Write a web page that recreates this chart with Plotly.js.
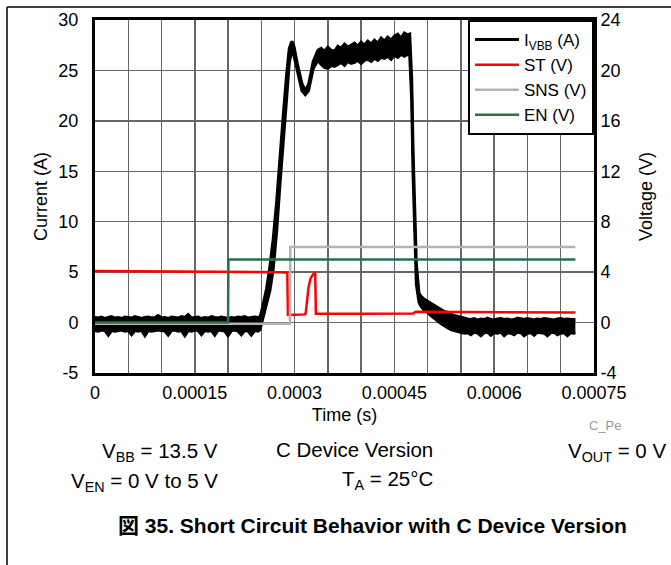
<!DOCTYPE html>
<html>
<head>
<meta charset="utf-8">
<script src="https://cdn.plot.ly/plotly-3.0.1.min.js"></script>
<style>html,body{margin:0;padding:0;background:#fff;}#chart{width:671px;height:565px;}</style>
</head>
<body>
<div id="chart"></div>
<script>
// ---- Data (time in microseconds; tick labels give seconds) ----
const xTickVals = [0,150,300,450,600,750];
const xTickText = ['0','0.00015','0.0003','0.00045','0.0006','0.00075'];
const xGridVals = [0,50,100,150,200,250,300,350,400,450,500,550,600,650,700,750];
const yTickVals = [-5,0,5,10,15,20,25,30];
const yTickText = ['-5','0','5','10','15','20','25','30'];
const y2TickVals = [-4,0,4,8,12,16,20,24];
const y2TickText = ['-4','0','4','8','12','16','20','24'];

// I_VBB current envelope (upper / lower edge of the noisy scope trace), A
const iTime = [0,5,10,15,20,25,30,35,40,45,50,55,60,65,70,75,80,85,90,95,100,105,110,115,120,125,130,135,140,145,150,155,160,165,170,175,180,185,190,195,200,205,210,215,220,225,230,235,240,245,
  248,250,253,258,263,268,273,278,283,288,292,296,299,304,311,316,321,328,335,
  340,345,350,355,360,365,370,375,380,385,390,395,400,405,410,415,420,425,430,435,440,445,450,455,460,465,470,473,
  476,478,481,483,487,490,495,500,505,510,515,520,525,530,535,540,545,550,555,
  560,565,570,575,580,585,590,595,600,605,610,615,620,625,630,635,640,645,650,655,660,665,670,675,680,685,690,695,700,705,710,715,720,722];
const iUpper = [0.5,0.45,0.55,0.4,0.5,0.6,0.45,0.5,0.4,0.55,0.5,0.45,0.6,0.5,0.4,0.5,0.55,0.45,0.5,0.7,0.45,0.5,0.4,0.55,0.5,0.45,0.6,0.5,0.8,0.45,0.5,0.55,0.4,0.5,0.45,0.6,0.5,0.45,0.55,0.5,0.4,0.5,0.45,0.55,0.5,0.6,0.45,0.5,0.55,0.5,
  0.6,1.0,1.9,3.4,5.6,8.4,12.0,16.7,20.6,24.6,27.2,27.9,27.4,25.7,23.7,23.0,23.6,25.9,27.0,
  27.2,26.9,27.3,27.0,26.9,27.4,27.2,27.6,27.3,27.5,27.7,27.4,27.8,27.5,27.9,27.6,28.0,27.7,28.2,27.9,28.3,28.0,28.4,28.6,28.2,28.7,28.5,28.6,
  24.2,17.2,10.6,5.8,2.9,2.6,2.3,2.1,1.9,1.7,1.5,1.3,1.1,1.0,0.8,0.7,0.6,0.5,0.4,
  0.35,0.3,0.4,0.25,0.35,0.3,0.45,0.3,0.25,0.35,0.4,0.3,0.35,0.25,0.3,0.45,0.35,0.3,0.4,0.3,0.25,0.35,0.3,0.4,0.35,0.3,0.25,0.35,0.4,0.3,0.35,0.3,0.35,0.3];
const iLower = [-0.8,-0.85,-0.75,-0.8,-1.25,-0.8,-0.85,-0.8,-0.75,-0.85,-0.8,-1.2,-0.8,-0.85,-0.75,-1.3,-0.8,-0.85,-0.8,-0.75,-0.8,-0.85,-1.25,-0.8,-0.75,-0.85,-0.8,-1.3,-0.8,-0.85,-0.75,-0.8,-1.2,-0.8,-0.85,-0.8,-1.25,-0.75,-0.8,-0.85,-1.3,-0.8,-0.75,-0.85,-1.2,-0.8,-0.85,-1.25,-0.8,-0.85,
  -0.7,-0.2,0.7,1.8,3.2,5.4,9.0,13.7,17.6,22.2,25.8,27.0,26.5,25.0,23.0,22.6,23.0,25.2,26.0,
  25.6,25.3,25.2,25.5,25.4,25.6,25.8,25.5,25.9,25.7,25.8,26.0,25.7,26.0,26.1,25.9,26.2,26.0,26.3,26.2,26.4,26.1,26.5,26.3,26.6,26.4,26.6,26.5,
  22.0,14.8,8.2,3.8,2.0,1.6,1.2,1.0,0.7,0.4,0.1,-0.1,-0.3,-0.5,-0.7,-0.8,-0.9,-1.0,-1.05,
  -1.0,-1.2,-0.95,-1.05,-1.3,-1.0,-0.95,-1.25,-1.0,-1.05,-0.95,-1.3,-1.0,-1.05,-1.2,-0.95,-1.0,-1.3,-1.05,-1.0,-1.25,-0.95,-1.0,-1.05,-1.3,-1.0,-0.95,-1.2,-1.05,-1.0,-1.3,-1.0,-1.05,-1.0];

// ST voltage, V
const stTime = [0,100,200,280,289,290,300,316,317,319,321,324,328,331,332,400,478,482,600,722];
const stVolt = [4.1,4.08,4.05,4.0,3.95,0.6,0.62,0.65,0.9,1.8,2.8,3.5,3.85,3.9,0.7,0.7,0.72,0.85,0.82,0.8];

// SNS voltage, V
const snsTime = [0,293,293.5,722];
const snsVolt = [-0.1,-0.1,6.0,6.0];

// EN voltage, V
const enTime = [0,200,200.5,722];
const enVolt = [0,0,5,5];

const FONT = 'Liberation Sans, Arial, Helvetica, "Noto Sans CJK JP", sans-serif';

const traces = [
  {x: iTime, y: iUpper, type: 'scatter', mode: 'lines', name: 'I<sub>VBB</sub> (A)',
   line: {color: '#000', width: 3}, legendgroup: 'i'},
  {x: iTime, y: iLower, type: 'scatter', mode: 'lines', name: 'I_VBB low', showlegend: false,
   fill: 'tonexty', fillcolor: '#000', line: {color: '#000', width: 3}, legendgroup: 'i'},
  {x: stTime, y: stVolt, type: 'scatter', mode: 'lines', name: 'ST (V)', yaxis: 'y2',
   line: {color: '#ff0000', width: 2.5}},
  {x: snsTime, y: snsVolt, type: 'scatter', mode: 'lines', name: 'SNS (V)', yaxis: 'y2',
   line: {color: '#b3b3b3', width: 2.5}},
  {x: enTime, y: enVolt, type: 'scatter', mode: 'lines', name: 'EN (V)', yaxis: 'y2',
   line: {color: '#2d6e4b', width: 2.5}}
];

const px = v => (v - 95) / 499;   // pixel -> paper x
const py = v => (373 - v) / 353;  // pixel -> paper y

const annFont = {family: FONT, size: 20.5, color: '#000'};
const layout = {
  width: 671, height: 565,
  margin: {l: 95, r: 77, t: 20, b: 192},
  paper_bgcolor: '#fff', plot_bgcolor: '#fff',
  font: {family: FONT, size: 18, color: '#000'},
  showlegend: true,
  legend: {x: 1, y: 1, xanchor: 'right', yanchor: 'top', bgcolor: '#fff',
           bordercolor: '#000', borderwidth: 2, font: {family: FONT, size: 17, color: '#000'},
           tracegroupgap: 0, itemwidth: 44},
  xaxis: {range: [0, 750], tickmode: 'array', tickvals: xTickVals, ticktext: xTickText,
          showgrid: true, gridcolor: '#666', gridwidth: 1.5, zeroline: false,
          minor: {tickmode: 'array', tickvals: xGridVals, showgrid: true, gridcolor: '#666', gridwidth: 1.5, ticks: ''},
          showline: true, linecolor: '#000', linewidth: 3, mirror: true, ticks: '',
          ticklabelstandoff: 1,
          title: {text: 'Time (s)', standoff: 7, font: {family: FONT, size: 18}}},
  yaxis: {range: [-5, 30], tickmode: 'array', tickvals: yTickVals, ticktext: yTickText,
          showgrid: true, gridcolor: '#666', gridwidth: 1.5,
          zeroline: false, showline: true, linecolor: '#000', linewidth: 3, mirror: true, ticks: '',
          ticklabelstandoff: 10,
          title: {text: 'Current (A)', standoff: 7, font: {family: FONT, size: 18}}},
  yaxis2: {range: [-4, 24], tickmode: 'array', tickvals: y2TickVals, ticktext: y2TickText,
           overlaying: 'y', side: 'right', showgrid: false,
           zeroline: false, showline: true, linecolor: '#000', linewidth: 3, ticks: '',
           ticklabelstandoff: 0,
           title: {text: 'Voltage (V)', standoff: 20, font: {family: FONT, size: 18}}},
  shapes: [
    {type: 'line', xref: 'paper', yref: 'paper', x0: px(7), x1: px(671), y0: py(7), y1: py(7),
     line: {color: '#000', width: 1.5}},
    {type: 'line', xref: 'paper', yref: 'paper', x0: px(7), x1: px(7), y0: py(7), y1: py(565),
     line: {color: '#000', width: 1.5}}
  ],
  annotations: [
    {text: 'C_Pe', xref: 'paper', yref: 'paper', x: px(605), y: py(425), xanchor: 'center', yanchor: 'middle',
     showarrow: false, font: {family: FONT, size: 13, color: '#999'}},
    {text: 'V<sub>BB</sub> = 13.5 V', xref: 'paper', yref: 'paper', x: px(220), y: py(452), xanchor: 'right', yanchor: 'middle',
     showarrow: false, font: annFont},
    {text: 'C Device Version', xref: 'paper', yref: 'paper', x: px(435), y: py(449.5), xanchor: 'right', yanchor: 'middle',
     showarrow: false, font: annFont},
    {text: 'V<sub>OUT</sub> = 0 V', xref: 'paper', yref: 'paper', x: px(668), y: py(452), xanchor: 'right', yanchor: 'middle',
     showarrow: false, font: annFont},
    {text: 'V<sub>EN</sub> = 0 V to 5 V', xref: 'paper', yref: 'paper', x: px(220), y: py(482), xanchor: 'right', yanchor: 'middle',
     showarrow: false, font: annFont},
    {text: 'T<sub>A</sub> = 25°C', xref: 'paper', yref: 'paper', x: px(435), y: py(480), xanchor: 'right', yanchor: 'middle',
     showarrow: false, font: annFont},
    {text: '<b>図 35. Short Circuit Behavior with C Device Version</b>', xref: 'paper', yref: 'paper',
     x: px(372), y: py(525), xanchor: 'center', yanchor: 'middle',
     showarrow: false, font: {family: FONT, size: 21, color: '#000'}}
  ]
};

Plotly.newPlot('chart', traces, layout, {displayModeBar: false, staticPlot: true});
</script>
</body>
</html>
